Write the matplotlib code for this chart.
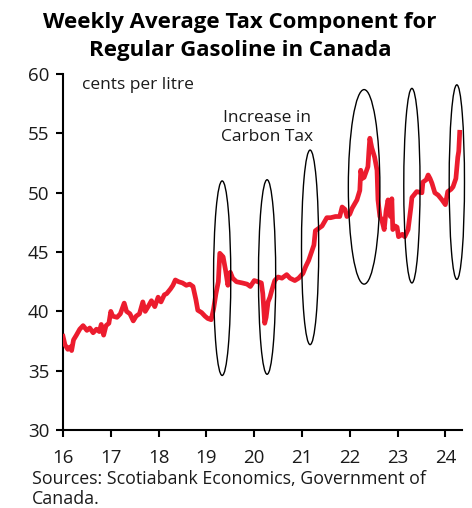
import matplotlib
matplotlib.use("Agg")
import matplotlib.pyplot as plt
from matplotlib.patches import Ellipse

plt.rcParams['font.family'] = ['Open Sans', 'DejaVu Sans']

# weekly average tax component, cents per litre (x in years since 2000)
years = [
    16.00, 16.04, 16.10, 16.15, 16.18, 16.22, 16.28, 16.35, 16.42, 16.50,
    16.56, 16.63, 16.70, 16.76, 16.80, 16.85, 16.90, 16.96, 17.00, 17.04,
    17.13, 17.20, 17.28, 17.33, 17.40, 17.47, 17.53, 17.60, 17.67, 17.72,
    17.78, 17.85, 17.92, 17.99, 18.05, 18.12, 18.17, 18.25, 18.30, 18.35,
    18.42, 18.50, 18.58, 18.65, 18.72, 18.78, 18.82, 18.90, 18.97, 19.03,
    19.10, 19.15, 19.20, 19.25, 19.28, 19.35, 19.40, 19.45, 19.50, 19.55,
    19.63, 19.75, 19.85, 19.92, 20.00, 20.08, 20.15, 20.18, 20.22, 20.25,
    20.29, 20.33, 20.37, 20.43, 20.50, 20.58, 20.68, 20.75, 20.85, 20.93,
    21.02, 21.08, 21.14, 21.20, 21.25, 21.28, 21.35, 21.42, 21.52, 21.60,
    21.70, 21.79, 21.84, 21.90, 21.94, 22.00, 22.05, 22.15, 22.21, 22.23,
    22.26, 22.30, 22.38, 22.40, 22.42, 22.46, 22.52, 22.57, 22.59, 22.63,
    22.67, 22.72, 22.76, 22.80, 22.85, 22.88, 22.90, 22.95, 22.99, 23.02,
    23.10, 23.15, 23.22, 23.28, 23.30, 23.40, 23.51, 23.53, 23.60, 23.64,
    23.68, 23.72, 23.78, 23.85, 23.93, 24.00, 24.05, 24.12, 24.16, 24.22,
    24.26, 24.28, 24.30,
]
tax = [
    37.9, 37.2, 36.8, 37.0, 36.7, 37.6, 38.0, 38.5, 38.8, 38.4,
    38.6, 38.2, 38.5, 38.3, 38.9, 38.0, 38.8, 39.0, 40.0, 39.6,
    39.5, 39.8, 40.7, 40.0, 39.8, 39.2, 39.6, 39.8, 40.8, 40.0,
    40.4, 40.9, 40.4, 41.2, 40.8, 41.4, 41.5, 41.9, 42.2, 42.65,
    42.5, 42.4, 42.2, 42.3, 42.1, 41.0, 40.1, 39.9, 39.6, 39.4,
    39.3, 40.2, 41.5, 42.5, 44.9, 44.6, 43.5, 42.2, 43.3, 42.8,
    42.5, 42.4, 42.3, 42.1, 42.6, 42.5, 42.4, 41.5, 39.0, 39.5,
    40.8, 41.2, 41.8, 42.6, 42.9, 42.8, 43.1, 42.8, 42.6, 42.8,
    43.2, 43.8, 44.3, 45.0, 45.6, 46.8, 47.0, 47.2, 47.9, 47.9,
    48.0, 48.0, 48.8, 48.6, 48.0, 48.2, 48.7, 49.4, 50.2, 51.9,
    51.2, 51.3, 52.2, 53.5, 54.6, 53.8, 53.0, 51.9, 49.4, 48.0,
    47.7, 46.9, 48.5, 49.4, 48.0, 49.5, 46.9, 47.2, 47.1, 46.3,
    46.5, 46.3, 46.9, 48.8, 49.6, 50.1, 50.0, 50.9, 51.1, 51.5,
    51.2, 50.8, 50.0, 49.8, 49.4, 49.0, 50.1, 50.3, 50.5, 51.2,
    53.0, 53.5, 55.1,
]

# carbon tax increases marked with ellipses
hike_years = [19.33, 20.27, 21.17, 22.30, 23.30, 24.24]
hike_levels = [42.8, 42.9, 45.4, 50.5, 50.6, 50.9]
hike_widths = [0.36, 0.36, 0.36, 0.66, 0.34, 0.32]
hike_heights = [16.4, 16.4, 16.4, 16.4, 16.4, 16.4]

x_ticks = [16, 17, 18, 19, 20, 21, 22, 23, 24]
y_ticks = [30, 35, 40, 45, 50, 55, 60]

fig = plt.figure(figsize=(4.72, 5.08), dpi=100)
ax = fig.add_axes([0.1335, 0.1535, 0.8455, 0.7005])

ax.plot(years, tax, color='#EC1C2E', lw=3.4, solid_joinstyle='round', zorder=3)

for cx, cy, w, h in zip(hike_years, hike_levels, hike_widths, hike_heights):
    ax.add_patch(Ellipse((cx, cy), w, h, fill=False, edgecolor='black',
                         lw=1.0, clip_on=False, zorder=4))

ax.set_xlim(16, 24.35)
ax.set_ylim(30, 60)
ax.set_xticks(x_ticks)
ax.set_xticklabels([str(t) for t in x_ticks])
ax.set_yticks(y_ticks)
ax.tick_params(axis='both', labelsize=13.5, length=5, width=1.5, color='black',
               labelcolor='#1a1a1a')
ax.tick_params(axis='x', pad=9)
ax.tick_params(axis='y', pad=5)

for side in ('top', 'right'):
    ax.spines[side].set_visible(False)
for side in ('left', 'bottom'):
    ax.spines[side].set_linewidth(1.5)

ax.text(16.4, 59.8, 'cents per litre', fontsize=12.5, va='top', ha='left',
        color='#1a1a1a')
ax.text(20.27, 57.0, 'Increase in\nCarbon Tax', fontsize=12.5, va='top',
        ha='center', color='#1a1a1a', linespacing=1.25)

fig.text(0.508, 0.976, 'Weekly Average Tax Component for\nRegular Gasoline in Canada',
         ha='center', va='top', fontsize=16, fontweight='bold',
         linespacing=1.4)
fig.text(0.068, 0.074, 'Sources: Scotiabank Economics, Government of\nCanada.',
         ha='left', va='top', fontsize=12.8, color='#1a1a1a', linespacing=1.08)

fig.savefig('out.png', dpi=100)
